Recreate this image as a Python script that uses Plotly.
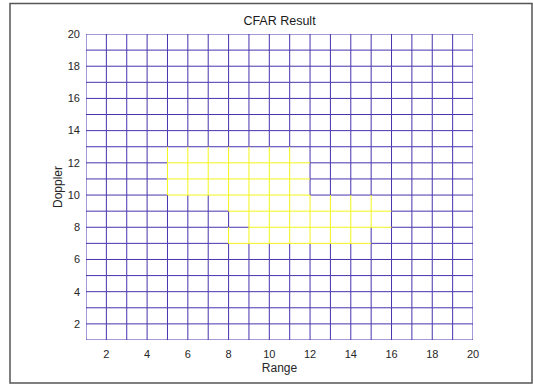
import plotly.graph_objects as go

# CFAR detection map: rows are Doppler bins 1..20 (bottom to top), columns are Range bins 1..20
range_bins = list(range(1, 21))
doppler_bins = list(range(1, 21))

cfar_rows = [
    [0,0,0,0,0,0,0,0,0,0,0,0,0,0,0,0,0,0,0,0],  # 1
    [0,0,0,0,0,0,0,0,0,0,0,0,0,0,0,0,0,0,0,0],  # 2
    [0,0,0,0,0,0,0,0,0,0,0,0,0,0,0,0,0,0,0,0],  # 3
    [0,0,0,0,0,0,0,0,0,0,0,0,0,0,0,0,0,0,0,0],  # 4
    [0,0,0,0,0,0,0,0,0,0,0,0,0,0,0,0,0,0,0,0],  # 5
    [0,0,0,0,0,0,0,0,0,0,0,0,0,0,0,0,0,0,0,0],  # 6
    [0,0,0,0,0,0,0,1,1,1,1,1,1,1,0,0,0,0,0,0],  # 7
    [0,0,0,0,0,0,0,0,1,1,1,1,1,1,1,0,0,0,0,0],  # 8
    [0,0,0,0,0,0,0,1,1,1,1,1,1,1,1,0,0,0,0,0],  # 9
    [0,0,0,0,1,1,1,1,1,1,1,0,0,0,0,0,0,0,0,0],  # 10
    [0,0,0,0,1,1,1,1,1,1,1,0,0,0,0,0,0,0,0,0],  # 11
    [0,0,0,0,1,1,1,1,1,1,1,0,0,0,0,0,0,0,0,0],  # 12
    [0,0,0,0,0,0,0,0,0,0,0,0,0,0,0,0,0,0,0,0],  # 13
    [0,0,0,0,0,0,0,0,0,0,0,0,0,0,0,0,0,0,0,0],  # 14
    [0,0,0,0,0,0,0,0,0,0,0,0,0,0,0,0,0,0,0,0],  # 15
    [0,0,0,0,0,0,0,0,0,0,0,0,0,0,0,0,0,0,0,0],  # 16
    [0,0,0,0,0,0,0,0,0,0,0,0,0,0,0,0,0,0,0,0],  # 17
    [0,0,0,0,0,0,0,0,0,0,0,0,0,0,0,0,0,0,0,0],  # 18
    [0,0,0,0,0,0,0,0,0,0,0,0,0,0,0,0,0,0,0,0],  # 19
    [0,0,0,0,0,0,0,0,0,0,0,0,0,0,0,0,0,0,0,0],  # 20
]

tick_vals = [2, 4, 6, 8, 10, 12, 14, 16, 18, 20]
tick_text = ["2", "4", "6", "8", "10", "12", "14", "16", "18", "20"]

COLOR_LOW = "#4634AE"   # parula low
COLOR_HIGH = "#F4F41A"  # parula high

# build mesh edges (each edge coloured by its first vertex, like MATLAB mesh with flat edges)
segs = {0: ([], []), 1: ([], [])}
nx, ny = len(range_bins), len(doppler_bins)
for j in range(ny):
    for i in range(nx):
        v = cfar_rows[j][i]
        xs, ys = segs[v]
        if i < nx - 1:
            xs += [range_bins[i], range_bins[i + 1], None]
            ys += [doppler_bins[j], doppler_bins[j], None]
        if j < ny - 1:
            xs += [range_bins[i], range_bins[i], None]
            ys += [doppler_bins[j], doppler_bins[j + 1], None]

fig = go.Figure()
for v, col in ((0, COLOR_LOW), (1, COLOR_HIGH)):
    xs, ys = segs[v]
    fig.add_trace(go.Scatter(x=xs, y=ys, mode="lines",
                             line=dict(color=col, width=1),
                             hoverinfo="skip", cliponaxis=False, showlegend=False))

font = "Liberation Sans, Arial, Helvetica, sans-serif"
L, R, T, B = 86, 473, 33.5, 340
W, H = 533, 385

def px(xp):
    return (xp - L) / (R - L)

def py(yp):
    return (B - yp) / (B - T)

fig.update_layout(
    width=W, height=H,
    margin=dict(l=L, r=W - R, t=T, b=H - B, pad=0),
    paper_bgcolor="white", plot_bgcolor="white",
    title=dict(text="CFAR Result", x=0.5, xanchor="center", xref="paper",
               y=1 - 21 / H, yanchor="middle",
               font=dict(family=font, size=12.5, color="#1a1a1a")),
    xaxis=dict(range=[1, 20], tickvals=tick_vals, ticktext=tick_text,
               showgrid=False, zeroline=False, showline=False, ticks="",
               ticklabelstandoff=6,
               tickfont=dict(family=font, size=11, color="#262626"),
               title=dict(text="Range", font=dict(family=font, size=12, color="#262626"),
                          standoff=4)),
    yaxis=dict(range=[1, 20], tickvals=tick_vals, ticktext=tick_text,
               showgrid=False, zeroline=False, showline=False, ticks="",
               ticklabelstandoff=5,
               tickfont=dict(family=font, size=11, color="#262626"),
               title=dict(text="Doppler", font=dict(family=font, size=12, color="#262626"),
                          standoff=2)),
    shapes=[
        dict(type="rect", xref="paper", yref="paper",
             x0=px(10), x1=px(532), y0=py(383), y1=py(3),
             line=dict(color="#555555", width=1.5), fillcolor="rgba(0,0,0,0)", layer="below"),
    ],
)

fig.write_html("out.html")
